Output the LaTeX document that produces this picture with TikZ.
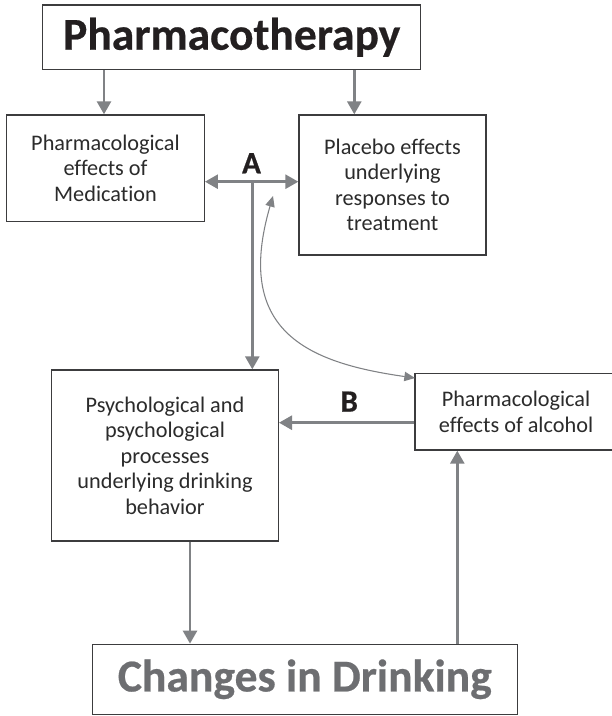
\documentclass[tikz,border=0pt]{standalone}
\usepackage{fontspec}
\setmainfont{Carlito}[Ligatures=NoCommon]
\newfontfamily\heavyfont{Carlito Bold}[Ligatures=NoCommon, FakeBold=0.5]
\usetikzlibrary{arrows.meta}

\definecolor{ink}{HTML}{231F20}
\definecolor{bodytext}{HTML}{2B2B2B}
\definecolor{boxline}{HTML}{3C3C3E}
\definecolor{flow}{HTML}{808285}
\definecolor{outcome}{HTML}{6D6E71}

\begin{document}
\begin{tikzpicture}[x=0.75pt, y=-0.75pt,
  box/.style={draw=boxline, line width=1pt, fill=white, inner sep=0pt,
    align=center, text=bodytext, font=\fontsize{16.7}{19.1}\selectfont},
  titlebox/.style={box, text=ink, font=\heavyfont\fontsize{34.2}{40}\selectfont},
  letter/.style={font=\heavyfont\fontsize{23.3}{28}\selectfont, text=ink,
    inner sep=0pt, anchor=base},
  flowarrow/.style={draw=flow, line width=2pt,
    -{Triangle[length=9.75pt, width=10.5pt]}},
  bothways/.style={flowarrow, {Triangle[length=9.75pt, width=10.5pt]}-{Triangle[length=9.75pt, width=10.5pt]}},
  linkarrow/.style={draw=flow, line width=0.8pt,
    {Triangle[length=8pt, width=7pt]}-{Triangle[length=8pt, width=7pt]}}
]
  % canvas
  \fill[white] (0,0) rectangle (611,716);
  \useasboundingbox (0,0) rectangle (611,716);

  % boxes
  \node[titlebox, minimum width=283.5pt, minimum height=48.5pt] (pharm) at (231.7,37.3) {Pharmacotherapy};
  \node[box, minimum width=148.2pt, minimum height=80pt] (med) at (105.5,168.3)
    {Pharmacological\\effects of\\Medication};
  \node[box, minimum width=140.25pt, minimum height=105pt] (plac) at (392.5,185)
    {Placebo effects\\underlying\\responses to\\treatment};
  \node[box, minimum width=170pt, minimum height=128.25pt] (psych) at (165,455.5)
    {Psychological and\\psychological\\processes\\underlying drinking\\behavior};
  \node[box, minimum width=151.5pt, minimum height=57.5pt] (alc) at (516,411.7)
    {Pharmacological\\effects of alcohol};
  \node[titlebox, text=outcome, minimum width=318.75pt, minimum height=52.5pt] (chg) at (304.8,679.3)
    {Changes in Drinking};

  % path labels
  \node[letter] (labA) at (251.5,173.3) {A};
  \node[letter] (labB) at (349.2,411.7) {B};

  % guide coordinates for connector positions
  \coordinate (xMed) at (104,0);
  \coordinate (xPlac) at (354.3,0);
  \coordinate (hubA) at (252.3,181.7);
  \coordinate (yB) at (0,422.7);
  \coordinate (xDown) at (190,0);
  \coordinate (xUp) at (457.3,0);
  \coordinate (linkTop) at (273,196);
  \coordinate (linkEnd) at (415,378);

  % connectors
  \draw[flowarrow] (pharm.south -| xMed) -- (med.north -| xMed);
  \draw[flowarrow] (pharm.south -| xPlac) -- (plac.north -| xPlac);
  \draw[bothways] (med.east |- hubA) -- (plac.west |- hubA);
  \draw[flowarrow] (hubA) -- (psych.north -| hubA);
  \draw[flowarrow] (alc.west |- yB) -- (psych.east |- yB);
  \draw[flowarrow] (psych.south -| xDown) -- (chg.north -| xDown);
  \draw[flowarrow] (chg.north -| xUp) -- (alc.south -| xUp);
  \draw[linkarrow] (linkTop) .. controls (233.8,330.4) and (306.1,362.6) .. (linkEnd);
\end{tikzpicture}
\end{document}
